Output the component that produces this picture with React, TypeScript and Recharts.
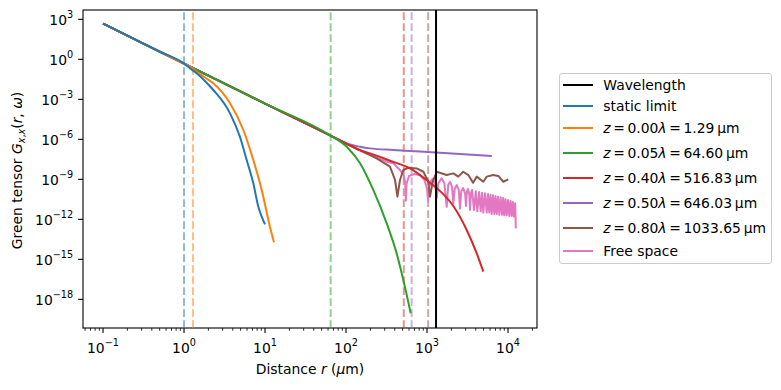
import { LineChart, Line, XAxis, YAxis, ReferenceLine, Label, usePlotArea } from 'recharts';

const FONT = '"DejaVu Sans", Verdana, sans-serif';

// axis limits (log scale)
const X_DOMAIN: [number, number] = [0.0566, 22800];
const Y_DOMAIN: [number, number] = [7.1e-21, 5000];

const xMajor = [0.1, 1, 10, 100, 1000, 10000];
const xMinorSteps = [2, 3, 4, 5, 6, 7, 8, 9];
const yMajor = [1e3, 1, 1e-3, 1e-6, 1e-9, 1e-12, 1e-15, 1e-18];

// vertical markers
const WAVELENGTH = 1292.07;
const STATIC_MARK = 1.0;
const zFactor = ['0.00', '0.05', '0.40', '0.50', '0.80'];
const zMicron = [1.29, 64.6, 516.83, 646.03, 1033.65];
const zMicronText = ['1.29', '64.60', '516.83', '646.03', '1033.65'];

const BLUE = '#1f77b4';
const ORANGE = '#ff7f0e';
const GREEN = '#2ca02c';
const RED = '#d62728';
const PURPLE = '#9467bd';
const BROWN = '#8c564b';
const PINK = '#e377c2';
const zColors = [ORANGE, GREEN, RED, PURPLE, BROWN];

type Pt = [number, number];

// common r^-3 near field part
const nearField: Pt[] = [[0.1, 480], [0.2, 60], [0.5, 3.8], [1, 0.48]];
const trunk: Pt[] = [[10, 4.8e-4], [63.6, 2e-6]];

const staticLimit: Pt[] = [
  ...nearField,
  [1.19, 0.21], [1.43, 0.089], [1.8, 0.025], [2.3, 5e-3], [3.7, 8.9e-5], [4.91, 1.5e-6],
  [5.94, 2.8e-8], [7.17, 5e-10], [8.27, 8.7e-12], [9.1, 1.6e-12], [10, 4.2e-13],
];

const z000: Pt[] = [
  ...nearField,
  [1.19, 0.28], [1.43, 0.117], [1.8, 0.045], [2.3, 0.0158], [3.7, 5e-4], [5.4, 5e-6],
  [7.17, 2.8e-8], [9.1, 1.6e-10], [11.5, 2.8e-13], [12.9, 1.9e-14],
];

const z005: Pt[] = [
  ...nearField, ...trunk,
  [102, 2.75e-7], [149, 1.6e-8], [217, 1.6e-10], [318, 5e-13], [422, 2.8e-15],
  [510, 2.8e-17], [629, 9e-20],
];

const z040: Pt[] = [
  ...nearField, ...trunk,
  [102, 4.6e-7], [149, 1.55e-7], [198, 8.9e-8], [349, 2.5e-8], [617, 6.6e-9],
  [1089, 5.6e-10], [1500, 1.1e-10], [2113, 1e-11], [3090, 1.6e-13], [4111, 2.8e-15],
  [4955, 1.2e-16],
];

const z050: Pt[] = [
  ...nearField, ...trunk,
  [102, 5e-7], [149, 2.8e-7], [198, 2.1e-7], [384, 1.6e-7], [820, 1.2e-7], [6310, 5.6e-8],
];

const z080: Pt[] = [
  ...nearField, ...trunk,
  [102, 4.6e-7], [149, 1.5e-7], [239, 3.7e-8], [349, 8.9e-9], [403, 8.9e-10],
  [431, 5e-11], [464, 8.9e-10], [510, 5e-9], [587, 7.4e-9], [745, 6.6e-9],
  [902, 3.7e-9], [1038, 6.6e-10], [1089, 5e-11], [1175, 6.6e-10], [1318, 3.7e-9],
  [1750, 2.1e-9], [2113, 2.8e-9], [2433, 1.6e-9], [2800, 3.7e-9], [3240, 2.1e-9],
  [3700, 5.5e-10], [4111, 1.6e-9], [4955, 6.6e-10], [5458, 1.6e-9], [6580, 2.1e-9],
  [7600, 1.8e-9], [8750, 6.6e-10], [10090, 1e-9],
];

const freeSpace: Pt[] = [
  ...nearField, ...trunk,
  [149, 1.5e-7], [318, 2.1e-8], [384, 1.6e-8], [464, 5e-9], [515, 2.2e-9],
  [540, 5e-10], [548, 2.5e-11], [560, 5e-10], [600, 1.8e-9], [700, 2.5e-9],
  [820, 2e-9], [930, 9e-10], [1000, 2e-10], [1030, 2.5e-11], [1060, 2.5e-10],
  [1120, 8e-10], [1180, 1.1e-9], [1250, 6e-10], [1320, 4e-11], [1380, 5e-10],
  [1514, 1.2e-9], [1640, 5e-10], [1750, 8.7e-12], [1830, 4e-10], [1930, 6.6e-10],
  [2040, 2.5e-10], [2113, 1.6e-11], [2200, 2e-10], [2330, 3.7e-10], [2470, 1.5e-10],
  [2554, 6.3e-12], [2650, 1.3e-10], [2790, 2.2e-10], [2950, 9e-11], [3030, 1e-11],
  [3110, 1.2e-10], [3210, 1.9e-10], [3330, 7e-11], [3396, 5e-12], [3480, 9e-11],
  [3600, 1.6e-10], [3802, 5e-12], [4000, 1.26e-10], [4178, 4e-12], [4400, 1.1e-10],
  [4603, 4e-12], [4780, 1e-10], [4955, 3.2e-12], [5200, 9e-11], [5458, 3.2e-12],
  [5660, 8e-11], [5875, 3.2e-12], [6080, 7e-11], [6295, 2.5e-12], [6530, 6.3e-11],
  [6776, 2.5e-12], [7010, 5.6e-11], [7250, 2.5e-12], [7530, 5e-11], [7810, 2.2e-12],
  [8120, 4.5e-11], [8433, 2.2e-12], [8710, 4e-11], [8995, 2e-12], [9320, 3.2e-11],
  [9640, 2e-12], [10000, 2.8e-11], [10375, 1.8e-12], [10750, 2.5e-11], [11120, 1.8e-12],
  [11490, 2e-11], [11860, 1.6e-12], [12250, 1.6e-11], [12500, 2.1e-13],
];

const rows = (pts: Pt[]) => pts.map(([r, g]) => ({ r, g }));

const xTicks = [...xMajor, ...[0.01, ...xMajor].flatMap((d) => xMinorSteps.map((s) => +(d * s).toPrecision(3)))]
  .filter((v) => v > X_DOMAIN[0] && v < X_DOMAIN[1])
  .sort((a, b) => a - b);

function isDecade(v: number) {
  const l = Math.log10(v);
  return Math.abs(l - Math.round(l)) < 1e-6;
}

function expText(v: number) {
  const e = Math.round(Math.log10(v));
  return e < 0 ? `\u2212${-e}` : `${e}`;
}

function XTick({ x, y, payload }: any) {
  const major = isDecade(payload.value);
  return (
    <g>
      <line x1={x} x2={x} y1={y} y2={y + (major ? 4.9 : 2.8)} stroke="#000" strokeWidth={major ? 1.1 : 0.8} />
      {major && (
        <text x={x} y={y + 25} textAnchor="middle" fontSize={13.9} fontFamily={FONT} fill="#000">
          <tspan>10</tspan>
          <tspan dy={-7} fontSize={9.7}>{expText(payload.value)}</tspan>
        </text>
      )}
    </g>
  );
}

function YTick({ x, y, payload }: any) {
  return (
    <g>
      <line x1={x - 4.9} x2={x} y1={y} y2={y} stroke="#000" strokeWidth={1.1} />
      <text x={x - 9.8} y={y + 6} textAnchor="end" fontSize={13.9} fontFamily={FONT} fill="#000">
        <tspan>10</tspan>
        <tspan dy={-7.5} fontSize={9.7}>{expText(payload.value)}</tspan>
      </text>
    </g>
  );
}

function XTitle() {
  return (
    <text x={310} y={374} textAnchor="middle" fontSize={13.9} fontFamily={FONT} fill="#000">
      Distance <tspan fontStyle="italic">r</tspan> (<tspan fontStyle="italic">μ</tspan>m)
    </text>
  );
}

function YTitle() {
  return (
    <text transform="translate(21.5,170.5) rotate(-90)" textAnchor="middle" fontSize={13.9} fontFamily={FONT} fill="#000">
      Green tensor{' '}
      <tspan fontStyle="italic">G</tspan>
      <tspan fontStyle="italic" fontSize={9.7} dy={3}>x</tspan>
      <tspan fontSize={9.7}>,</tspan>
      <tspan fontStyle="italic" fontSize={9.7}>x</tspan>
      <tspan dy={-3}>(</tspan>
      <tspan fontStyle="italic">r</tspan>
      <tspan>, </tspan>
      <tspan fontStyle="italic">ω</tspan>
      <tspan>)</tspan>
    </text>
  );
}

// box around the plot area
function Frame() {
  const area = usePlotArea();
  if (!area) return null;
  return (
    <rect x={area.x} y={area.y} width={area.width} height={area.height} fill="none" stroke="#000" strokeWidth={1.1} />
  );
}

const Eq = () => <span style={{ margin: '0 2.6px' }}>=</span>;

const legendRows = [
  { color: '#000', math: false, label: <>Wavelength</> },
  { color: BLUE, math: false, label: <>static limit</> },
  ...zFactor.map((f, i) => ({
    color: zColors[i],
    math: true,
    label: (
      <>
        <i>z</i><Eq />{f}<i>λ</i><Eq />{zMicronText[i]}{'\u2009'}μm
      </>
    ),
  })),
  { color: PINK, math: false, label: <>Free space</> },
];

function LegendBox() {
  return (
    <div
      style={{
        position: 'absolute',
        left: 559,
        top: 73,
        width: 211,
        border: '1px solid #cccccc',
        borderRadius: 3,
        background: '#fff',
        fontFamily: FONT,
        fontSize: 13.9,
        color: '#000',
        paddingBottom: 2,
      }}
    >
      {legendRows.map((row, i) => (
        <div key={i} style={{ display: 'flex', alignItems: 'center', height: row.math ? 24.9 : 21 }}>
          <span
            style={{
              display: 'inline-block',
              width: 29.4,
              height: 2,
              background: row.color,
              marginLeft: 3.3,
              marginRight: 10.6,
            }}
          />
          <span style={{ whiteSpace: 'nowrap' }}>{row.label}</span>
        </div>
      ))}
    </div>
  );
}

export default function App() {
  // drawn back to front: free space first, static limit on top
  const series = [
    { pts: freeSpace, color: PINK, curve: 'linear' },
    { pts: z080, color: BROWN, curve: 'linear' },
    { pts: z050, color: PURPLE, curve: 'monotone' },
    { pts: z040, color: RED, curve: 'monotone' },
    { pts: z005, color: GREEN, curve: 'monotone' },
    { pts: z000, color: ORANGE, curve: 'monotone' },
    { pts: staticLimit, color: BLUE, curve: 'monotone' },
  ];

  return (
    <div style={{ position: 'absolute', left: 0, top: 0, width: 781, height: 390, background: '#fff' }}>
      <LineChart width={781} height={390} margin={{ top: 10, right: 244, bottom: 0, left: 0 }}>
        <XAxis
          dataKey="r"
          type="number"
          scale="log"
          domain={X_DOMAIN}
          allowDataOverflow
          ticks={xTicks}
          interval={0}
          tickSize={0}
          tickMargin={0}
          tickLine={false}
          axisLine={false}
          height={62}
          tick={(p: any) => <XTick {...p} />}
        >
          <Label content={() => <XTitle />} />
        </XAxis>
        <YAxis
          type="number"
          scale="log"
          domain={Y_DOMAIN}
          allowDataOverflow
          ticks={yMajor}
          interval={0}
          tickSize={0}
          tickMargin={0}
          tickLine={false}
          axisLine={false}
          width={83}
          tick={(p: any) => <YTick {...p} />}
        >
          <Label content={() => <YTitle />} />
        </YAxis>
        <ReferenceLine x={STATIC_MARK} stroke={BLUE} strokeOpacity={0.5} strokeWidth={2} strokeDasharray="7.7 3.3" />
        {zMicron.map((z, i) => (
          <ReferenceLine
            key={z}
            x={z}
            stroke={zColors[i]}
            strokeOpacity={0.5}
            strokeWidth={2}
            strokeDasharray="7.7 3.3"
          />
        ))}
        {series.map((s, i) => (
          <Line
            key={i}
            data={rows(s.pts)}
            dataKey="g"
            type={s.curve as any}
            stroke={s.color}
            strokeWidth={2}
            strokeLinejoin="round"
            dot={false}
            activeDot={false}
            isAnimationActive={false}
          />
        ))}
        <ReferenceLine x={WAVELENGTH} stroke="#000" strokeWidth={2} />
        <Frame />
      </LineChart>
      <LegendBox />
    </div>
  );
}
